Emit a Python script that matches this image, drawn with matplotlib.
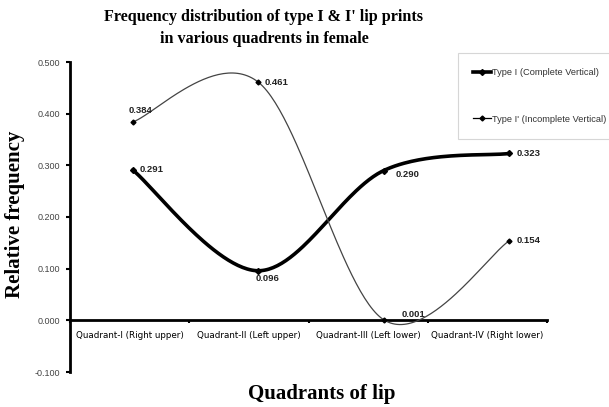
import numpy as np
import matplotlib
matplotlib.use("Agg")
import matplotlib.pyplot as plt
from matplotlib.lines import Line2D

categories = ["Quadrant-I (Right upper)", "Quadrant-II (Left upper)",
              "Quadrant-III (Left lower)", "Quadrant-IV (Right lower)"]
type_i = [0.291, 0.096, 0.290, 0.323]
type_i_prime = [0.384, 0.461, 0.001, 0.154]
series_names = ["Type I (Complete Vertical)", "Type I' (Incomplete Vertical)"]
yticks = [-0.1, 0.0, 0.1, 0.2, 0.3, 0.4, 0.5]


def excel_smooth(xs, ys, n=60):
    P = np.column_stack([xs, ys]).astype(float)
    m = len(P)
    out = []
    for i in range(m - 1):
        p0 = P[i - 1] if i > 0 else P[i]
        p1 = P[i]
        p2 = P[i + 1]
        p3 = P[i + 2] if i + 2 < m else P[i + 1]
        c1 = p1 + (p2 - p0) / 6.0
        c2 = p2 - (p3 - p1) / 6.0
        t = np.linspace(0, 1, n)[:, None]
        seg = ((1 - t) ** 3) * p1 + 3 * ((1 - t) ** 2) * t * c1 + 3 * (1 - t) * t ** 2 * c2 + t ** 3 * p2
        out.append(seg if i == 0 else seg[1:])
    seg = np.vstack(out)
    return seg[:, 0], seg[:, 1]


fig = plt.figure(figsize=(6.09, 4.07), dpi=100)
ax = fig.add_axes([70 / 609, 1 - 372 / 407, (547 - 70) / 609, (372 - 62) / 407])

XMAX = 3.8
x = np.arange(len(categories)) + 0.5

sx, sy = excel_smooth(x, type_i)
ax.plot(sx, sy, color="black", lw=2.6, solid_capstyle="round", zorder=3)
ax.plot(x, type_i, ls="none", marker="D", ms=3, color="black", zorder=4)

sx2, sy2 = excel_smooth(x, type_i_prime)
ax.plot(sx2, sy2, color="#444444", lw=0.9, zorder=3)
ax.plot(x, type_i_prime, ls="none", marker="D", ms=2.5, color="black", zorder=4)

lab_kw = dict(fontsize=6.8, fontweight="bold", family="Liberation Sans", textcoords="offset points",
              color="#222222", va="center")
offs_i = [(5, 0, "left"), (-2, -5.5, "left"), (8.5, -3, "left"), (5, 0, "left")]
offs_ip = [(-3, 8, "left"), (4.5, 0, "left"), (13, 3.5, "left"), (5, 0, "left")]
for xi, v, (dx, dy, ha) in zip(x, type_i, offs_i):
    ax.annotate(f"{v:.3f}", (xi, v), xytext=(dx, dy), ha=ha, **lab_kw)
for xi, v, (dx, dy, ha) in zip(x, type_i_prime, offs_ip):
    ax.annotate(f"{v:.3f}", (xi, v), xytext=(dx, dy), ha=ha, **lab_kw)

ax.set_xlim(0, XMAX)
ax.set_ylim(-0.1, 0.5)

ax.tick_params(axis="x", which="minor", length=0, pad=8, labelsize=6.3)
ax.tick_params(axis="x", which="major", length=2, width=1.5, direction="out")
ax.tick_params(axis="y", length=3, width=1.5, direction="out", pad=4, labelsize=6.5)

ax.set_yticks(yticks)
ax.set_yticklabels([f"{v:.3f}" for v in yticks], fontsize=6.5, family="Liberation Sans", color="#444444")

edges = np.linspace(0, XMAX, len(categories) + 1)
ax.set_xticks(edges)
ax.set_xticklabels([])
ax.set_xticks((edges[:-1] + edges[1:]) / 2, minor=True)
ax.set_xticklabels(categories, minor=True, fontsize=6.3, family="Liberation Sans", color="#333333")

for s in ["top", "right"]:
    ax.spines[s].set_visible(False)
ax.spines["bottom"].set_position(("data", 0))
ax.spines["bottom"].set_linewidth(2)
ax.spines["left"].set_linewidth(2)

ax.set_ylabel("Relative frequency", fontsize=15, fontweight="bold", family="Liberation Serif")
ax.yaxis.set_label_coords((25 - 70) / 477, 0.51)
fig.text(322 / 609, 1 - 394 / 407, "Quadrants of lip", ha="center", va="center",
         fontsize=15, fontweight="bold", family="Liberation Serif")

fig.text(264 / 609, 1 - 28 / 407, "Frequency distribution of type I & I' lip prints\nin various quadrents in female",
         ha="center", va="center", fontsize=11.6, fontweight="bold", family="Liberation Serif", linespacing=1.5)

handles = [Line2D([], [], color="black", lw=2.6, marker="D", ms=3),
           Line2D([], [], color="black", lw=0.9, marker="D", ms=2.5)]
leg = fig.legend(handles, series_names, loc="upper left", bbox_to_anchor=(458 / 609, 1 - 53 / 407),
                 prop={"family": "Liberation Sans", "size": 6.7}, frameon=True, fancybox=False,
                 labelspacing=4.0, handlelength=1.9, handletextpad=0.15, borderpad=1.65, borderaxespad=0)
leg.get_frame().set_edgecolor("#cccccc")
leg.get_frame().set_linewidth(0.8)
for t in leg.get_texts():
    t.set_color("#333333")

fig.savefig("out.png", dpi=100)
